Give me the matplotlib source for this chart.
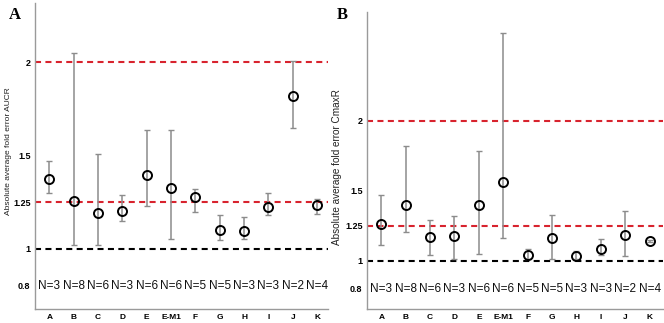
import matplotlib
matplotlib.use("Agg")
import matplotlib.pyplot as plt
import numpy as np

categories = ["A", "B", "C", "D", "E", "E-M1", "F", "G", "H", "I", "J", "K"]
n_labels = ["N=3", "N=8", "N=6", "N=3", "N=6", "N=6", "N=5", "N=5", "N=3", "N=3", "N=2", "N=4"]

aucr_mean = [1.375, 1.257, 1.193, 1.200, 1.394, 1.325, 1.279, 1.100, 1.093, 1.225, 1.817, 1.233]
aucr_low  = [1.299, 1.018, 1.018, 1.147, 1.229, 1.050, 1.198, 1.048, 1.050, 1.179, 1.649, 1.188]
aucr_high = [1.470, 2.048, 1.508, 1.290, 1.638, 1.638, 1.318, 1.179, 1.168, 1.300, 2.006, 1.268]

cmax_mean = [1.260, 1.396, 1.167, 1.174, 1.400, 1.562, 1.040, 1.160, 1.036, 1.081, 1.186, 1.139]
cmax_low  = [1.112, 1.205, 1.043, 1.010, 1.045, 1.162, 1.014, 1.010, 1.014, 1.043, 1.031, 1.132]
cmax_high = [1.471, 1.819, 1.289, 1.317, 1.786, 2.629, 1.081, 1.329, 1.071, 1.157, 1.357, 1.146]

yticks = [0.8, 1, 1.25, 1.5, 2]
ytick_labels = ["0.8", "1", "1.25", "1.5", "2"]

W, H = 664, 323
fig = plt.figure(figsize=(W / 100, H / 100), dpi=100)
fig.patch.set_facecolor("white")

SANS = ["Liberation Sans", "DejaVu Sans"]
RED = "#d8232e"
GRAY = "#8c8c8c"


def px_axes(left, top, right, bottom):
    return fig.add_axes([left / W, 1 - bottom / H, (right - left) / W, (bottom - top) / H])


def draw(ax, mean, low, high, ylim, xlim, ylabel, label_size, label_xy):
    x = np.arange(len(categories))
    ax.set_xlim(*xlim)
    ax.set_ylim(*ylim)
    for y, c in [(2, RED), (1.25, RED), (1, "black")]:
        ax.axhline(y, color=c, lw=1.5, ls=(0, (2.9, 2.1)), zorder=1)
    mean = np.array(mean)
    yerr = [mean - np.array(low), np.array(high) - mean]
    ax.errorbar(x, mean, yerr=yerr, fmt="none", ecolor=GRAY, elinewidth=1.1,
                capsize=2.2, capthick=1.0, zorder=2)
    ax.plot(x, mean, "o", ms=6.5, mfc="none", mec="black", mew=1.4, zorder=3)
    for xi, t in zip(x, n_labels):
        ax.text(xi, 0.8, t, ha="center", va="center", fontsize=8.5,
                family=SANS, color="#111111")
    ax.set_xticks(x)
    ax.set_xticklabels(categories, fontsize=6, fontweight="bold", family=SANS)
    ax.set_yticks(yticks)
    ax.set_yticklabels(ytick_labels, fontsize=6.5, fontweight="bold", family=SANS)
    ax.tick_params(axis="both", length=0)
    ax.tick_params(axis="y", pad=3)
    ax.tick_params(axis="x", pad=4)
    for s in ["top", "right"]:
        ax.spines[s].set_visible(False)
    for s in ["left", "bottom"]:
        ax.spines[s].set_color("#9a9a9a")
        ax.spines[s].set_linewidth(1.0)
    ax.set_ylabel(ylabel, fontsize=label_size, family=SANS, color="#222222")
    ax.yaxis.label.set_va("center")
    ax.yaxis.set_label_coords(*label_xy)


axA = px_axes(34.7, 3.3, 328, 308.7)
draw(axA, aucr_mean, aucr_low, aucr_high, (0.678, 2.316), (-0.6, 11.45),
     "Absolute average fold error AUCR", 6.0, (-0.091, 0.516))

axB = px_axes(366.7, 11.7, 663, 308.7)
draw(axB, cmax_mean, cmax_low, cmax_high, (0.657, 2.779), (-0.6, 11.55),
     "Absolute average fold error CmaxR", 7.2, (-0.100, 0.477))

fig.text(15 / W, 1 - 15 / H, "A", fontsize=12, fontweight="bold",
         family=["Liberation Serif", "DejaVu Serif"], ha="center", va="center")
fig.text(342 / W, 1 - 15 / H, "B", fontsize=12, fontweight="bold",
         family=["Liberation Serif", "DejaVu Serif"], ha="center", va="center")

fig.savefig("out.png", dpi=100, facecolor="white")
